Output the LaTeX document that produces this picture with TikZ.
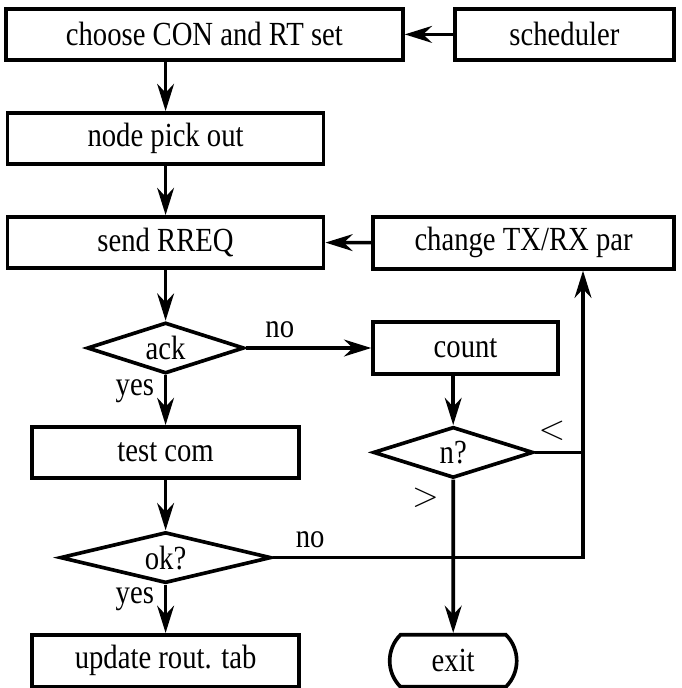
\documentclass[tikz,border=0pt]{standalone}
\usepackage{fontspec}
\setmainfont{Liberation Serif}[FakeStretch=0.85]
\usetikzlibrary{shapes.geometric, shapes.misc, arrows.meta, positioning, calc}

\begin{document}
\begin{tikzpicture}[
    >={Stealth[length=0.68cm, width=0.42cm, inset=0.22cm]},
    every node/.style={font=\fontsize{24}{28}\selectfont},
    process/.style={draw, line width=2.6pt, minimum height=1.275cm, inner sep=0pt, align=center},
    decision/.style={draw, diamond, aspect=3, line width=2.6pt, minimum width=3.925cm, minimum height=1.275cm, inner sep=0pt},
    terminal/.style={draw, rounded rectangle, rounded rectangle arc length=90, line width=2.6pt, minimum width=3.175cm, minimum height=1.3cm, inner sep=0pt},
    flow/.style={->, line width=2.6pt},
    link/.style={line width=2.6pt},
    tag/.style={inner sep=3pt}
  ]
    \useasboundingbox (0,0) rectangle (17.025,-17.2);

    % Boxes
    \node[process, minimum width=9.925cm] (choose) at (5.11,-0.86) {choose CON and RT set};
    \node[process, minimum width=5.475cm] (sched) at (14.11,-0.86) {scheduler};
    \node[process, minimum width=7.9cm] (pick) at (4.14,-3.46) {node pick out};
    \node[process, minimum width=7.9cm] (send) at (4.14,-6.06) {send RREQ};
    \node[process, minimum width=7.525cm, minimum height=1.3cm] (change) at (13.09,-6.07) {change TX/RX par};
    \node[decision] (ack) at (4.14,-8.7) {ack};
    \node[process, minimum width=4.625cm, minimum height=1.3cm] (count) at (11.64,-8.7) {count};
    \node[decision, minimum width=4cm] (nq) at (11.33,-11.31) {n?};
    \node[process, minimum width=6.675cm] (test) at (4.14,-11.31) {test com};
    \node[decision, minimum width=5.275cm] (ok) at (4.14,-13.94) {ok?};
    \node[process, minimum width=6.675cm, minimum height=1.3cm] (update) at (4.14,-16.52) {update rout. tab};
    \node[terminal] (exit) at (11.33,-16.52) {exit};
    \coordinate (rail) at (14.575,-13.94);

    % Connectors
    \draw[flow] (sched) -- (choose);
    \draw[flow] (choose.south -| pick.north) -- (pick);
    \draw[flow] (pick) -- (send);
    \draw[flow] (change) -- (send);
    \draw[flow] (send) -- (ack);
    \draw[flow] (ack) -- node[tag, above=3pt, pos=0.27] {no} (count);
    \draw[flow] (ack) -- node[tag, left=4pt, pos=0.32] {yes} (test);
    \draw[flow] (count.south -| nq.north) -- (nq);
    \draw[flow] (nq) -- node[tag, left=6pt, pos=0.12] {$>$} (exit);
    \draw[link] (nq.east) -- node[tag, above=4pt, pos=0.35] {$<$} (nq.east -| rail);
    \draw[flow] (test) -- (ok);
    \draw[flow] (ok) -- node[tag, left=4pt, pos=0.29] {yes} (update);
    \draw[flow] (ok.east) -- node[tag, above=3pt, pos=0.12] {no} (rail) -- (rail |- change.south);
\end{tikzpicture}
\end{document}
